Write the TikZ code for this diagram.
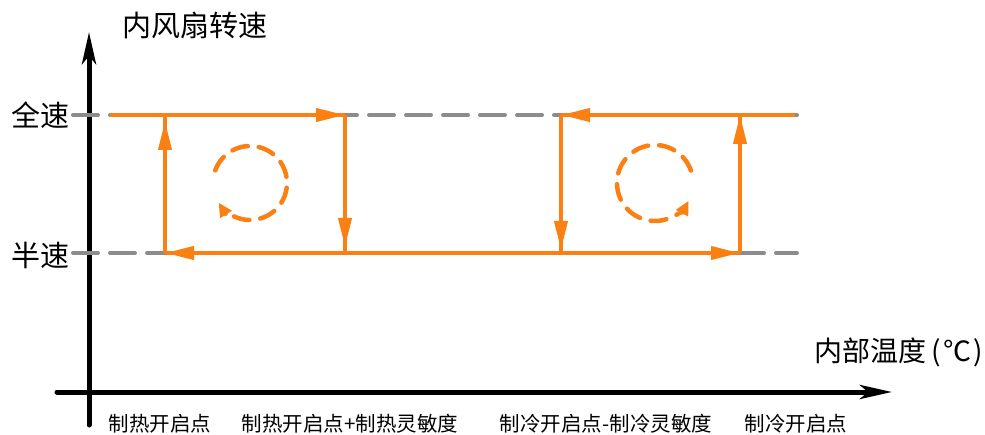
\documentclass[tikz,border=0pt]{standalone}
\usepackage{fontspec}
\newfontfamily\cjk{Noto Sans CJK SC}
\usetikzlibrary{arrows.meta,decorations.markings}
\definecolor{orng}{RGB}{250,128,20}
\definecolor{dgray}{RGB}{140,140,140}
\begin{document}
\begin{tikzpicture}[x=1pt,y=1pt,
  axis/.style={line width=5pt,line cap=round,-{Stealth[length=32pt,width=14pt,inset=8pt]}},
  level/.style={dgray,line width=4pt,line cap=round,dash pattern=on 25pt off 12pt},
  oline/.style={orng,line width=4pt},
  ocirc/.style={orng,line width=4.5pt,line cap=round,dash pattern=on 16pt off 11pt},
  tipat/.style={postaction={decorate},decoration={markings,mark=at position #1 with {\arrow{Triangle[length=29pt,width=13pt]}}}},
  lbl/.style={font=\cjk\fontsize{29}{29}\selectfont,inner sep=0pt},
  tick/.style={font=\cjk\fontsize{20.5}{21}\selectfont,inner sep=0pt}]
\useasboundingbox (0,0) rectangle (985,434);
% axes
\coordinate (Y0) at (89,9);
\coordinate (Y1) at (89,402);
\coordinate (X0) at (57,42);
\coordinate (X1) at (892,42);
\draw[axis] (Y0) -- (Y1);
\draw[axis] (X0) -- (X1);
% levels
\coordinate (FL) at (73,319);
\coordinate (FR) at (797,319);
\coordinate (HL) at (73,181);
\coordinate (HR) at (797,181);
\draw[level] (FL) -- (FR);
\draw[level] (HL) -- (HR);
% corners
\coordinate (T0) at (110,319);
\coordinate (H1) at (165,319);
\coordinate (H2) at (345,319);
\coordinate (C1) at (561,319);
\coordinate (C2) at (740,319);
\coordinate (T9) at (795,319);
\coordinate (H1b) at (165,181);
\coordinate (H2b) at (345,181);
\coordinate (C1b) at (561,181);
\coordinate (C2b) at (740,181);
% heating loop
\draw[oline,tipat=1] (T0) -- (H2);
\draw[oline,tipat=-6pt] (H2) -- (H2b);
\draw[oline,tipat=-6pt] (H1b) -- (H1);
\draw[oline,tipat=1] (C1b) -- (H1b);
% cooling loop
\draw[oline,tipat=1] (T9) -- (C1);
\draw[oline,tipat=-3pt] (C1) -- (C1b);
\draw[oline,tipat=1] (C1b) -- (C2b);
\draw[oline,tipat=1] (C2b) -- (C2);
% rotation circles
\coordinate (LC) at (250,251);
\coordinate (RC) at (655,251);
\draw[ocirc,-{Triangle[length=14pt,width=13pt]}] ([shift={(160:37)}]LC) arc[start angle=160,end angle=-148,radius=37];
\draw[ocirc,-{Triangle[length=14pt,width=13pt]}] ([shift={(19:38)}]RC) arc[start angle=19,end angle=332,radius=38];
% labels
\node[lbl] (ylab) at (195,409) {内风扇转速};
\node[lbl] (full) at (41,319) {全速};
\node[lbl] (half) at (41,179) {半速};
\node[lbl,font=\cjk\fontsize{28}{28}\selectfont,anchor=east] (xlab) at (983,82) {内部温度\hspace{5pt}(\hspace{2pt}℃\hspace{2pt})};
\node[tick] (t1) at (160,10) {制热开启点};
\node[tick] (t2) at (350,10) {制热开启点+制热灵敏度};
\node[tick] (t3) at (606,10) {制冷开启点-制冷灵敏度};
\node[tick] (t4) at (796,10) {制冷开启点};
\end{tikzpicture}
\end{document}
